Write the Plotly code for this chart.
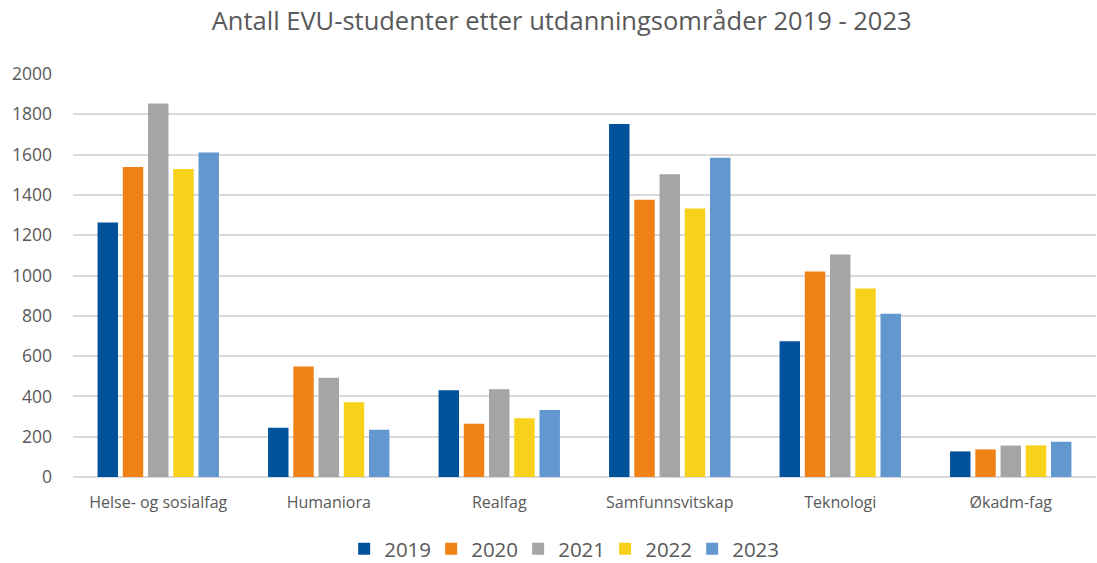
import plotly.graph_objects as go

categories = ["Helse- og sosialfag", "Humaniora", "Realfag", "Samfunnsvitskap", "Teknologi", "Økadm-fag"]
years = ["2019", "2020", "2021", "2022", "2023"]
v2019 = [1263, 245, 430, 1752, 674, 127]
v2020 = [1538, 548, 264, 1376, 1020, 137]
v2021 = [1854, 492, 436, 1502, 1104, 156]
v2022 = [1528, 371, 291, 1333, 935, 157]
v2023 = [1611, 235, 332, 1584, 810, 175]
series = [v2019, v2020, v2021, v2022, v2023]
colors = ["#00529B", "#EF8115", "#A5A5A5", "#F7D11A", "#6297CF"]
y_ticks = [0, 200, 400, 600, 800, 1000, 1200, 1400, 1600, 1800, 2000]

fig = go.Figure()
for name, vals, col in zip(years, series, colors):
    fig.add_trace(go.Bar(name=name, x=categories, y=vals, marker_color=col,
                         marker_line_width=0))

font = "Open Sans, Liberation Sans, sans-serif"
fig.update_layout(
    width=1097, height=563,
    barmode="group", bargap=0.26, bargroupgap=0.19,
    plot_bgcolor="white", paper_bgcolor="white",
    margin=dict(l=73, r=1, t=74, b=86, autoexpand=False),
    title=dict(text="Antall EVU-studenter etter utdanningsområder 2019 - 2023",
               x=0.512, xref="container", xanchor="center",
               y=0.962, yref="container", yanchor="middle",
               font=dict(family=font, size=25.5, color="#595959")),
    font=dict(family=font, color="#595959"),
    legend=dict(orientation="h", x=0.512, xanchor="center", xref="container",
                y=0.025, yref="container", yanchor="middle",
                bgcolor="rgba(0,0,0,0)",
                entrywidth=42, entrywidthmode="pixels",
                font=dict(size=20.5, color="#595959"),
                traceorder="normal"),
    yaxis=dict(range=[0, 2000], tickvals=y_ticks, showgrid=True,
               gridcolor="#D9D9D9", gridwidth=1.5, zeroline=True,
               zerolinecolor="#D9D9D9", zerolinewidth=1.5,
               tickfont=dict(size=17.5, color="#595959"), ticks="",
               ticklabelstandoff=20, fixedrange=True),
    xaxis=dict(tickfont=dict(size=16, color="#595959"), ticks="",
               ticklabelstandoff=14, showline=False, fixedrange=True),
)
fig.write_html("out.html", config={"displayModeBar": False},
               post_script="document.body.style.margin='0';")
